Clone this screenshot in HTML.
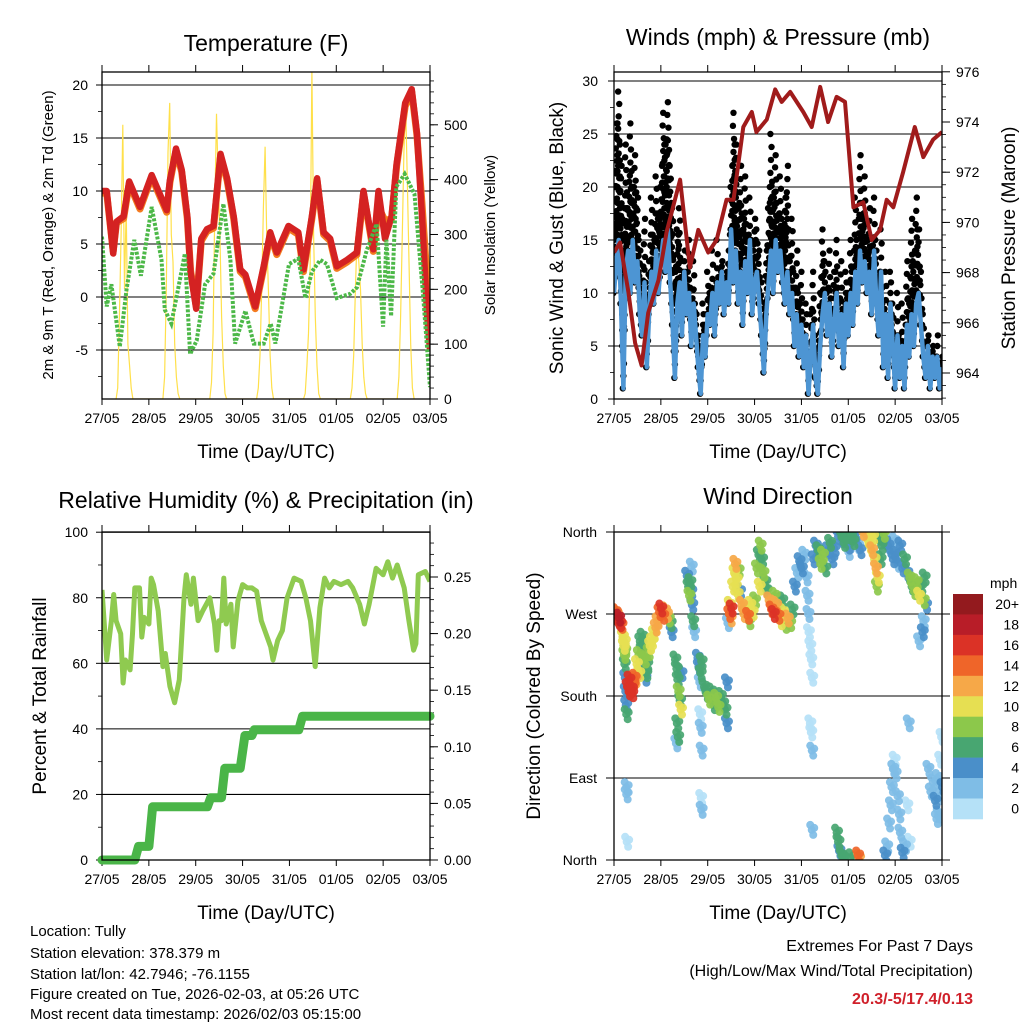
<!DOCTYPE html>
<html><head><meta charset="utf-8"><style>
html,body{margin:0;padding:0;background:#fff;}
svg{display:block;font-family:"Liberation Sans",Arial,sans-serif;}
</style></head><body>
<svg id="fig" width="1024" height="1024" viewBox="0 0 1024 1024" xmlns="http://www.w3.org/2000/svg">
<rect width="1024" height="1024" fill="#fff"/>
<g id="content"></g>
<text x="266" y="51" font-size="23" text-anchor="middle">Temperature (F)</text>
<text x="778" y="45" font-size="23" text-anchor="middle">Winds (mph) &amp; Pressure (mb)</text>
<text x="266" y="508" font-size="23" text-anchor="middle">Relative Humidity (%) &amp; Precipitation (in)</text>
<text x="778" y="504" font-size="23" text-anchor="middle">Wind Direction</text>
<text transform="translate(53,235) rotate(-90)" font-size="15" text-anchor="middle">2m &amp; 9m T (Red, Orange) &amp; 2m Td (Green)</text>
<text transform="translate(495,235) rotate(-90)" font-size="15" text-anchor="middle">Solar Insolation (Yellow)</text>
<text transform="translate(563,238) rotate(-90)" font-size="19" text-anchor="middle">Sonic Wind &amp; Gust (Blue, Black)</text>
<text transform="translate(1015,238) rotate(-90)" font-size="19" text-anchor="middle">Station Pressure (Maroon)</text>
<text transform="translate(46,696) rotate(-90)" font-size="19" text-anchor="middle">Percent &amp; Total Rainfall</text>
<text transform="translate(540,696) rotate(-90)" font-size="19" text-anchor="middle">Direction (Colored By Speed)</text>
<text x="266" y="458" font-size="19" text-anchor="middle">Time (Day/UTC)</text>
<text x="778" y="458" font-size="19" text-anchor="middle">Time (Day/UTC)</text>
<text x="266" y="919" font-size="19" text-anchor="middle">Time (Day/UTC)</text>
<text x="778" y="919" font-size="19" text-anchor="middle">Time (Day/UTC)</text>
<g font-size="15">
<text x="30" y="936">Location: Tully</text>
<text x="30" y="958">Station elevation: 378.379 m</text>
<text x="30" y="979">Station lat/lon: 42.7946; -76.1155</text>
<text x="30" y="999">Figure created on Tue, 2026-02-03, at 05:26 UTC</text>
<text x="30" y="1019">Most recent data timestamp: 2026/02/03 05:15:00</text>
</g>
<text x="973" y="951" font-size="16" text-anchor="end">Extremes For Past 7 Days</text>
<text x="973" y="976" font-size="16" text-anchor="end">(High/Low/Max Wind/Total Precipitation)</text>
<text x="973" y="1004" font-size="16" font-weight="bold" fill="#d0202a" text-anchor="end">20.3/-5/17.4/0.13</text>
<text x="990" y="588" font-size="14">mph</text>
</svg>
<script>
// ---------- data ----------
const dayLabels = ['27/05','28/05','29/05','30/05','31/05','01/05','02/05','03/05'];
const tempTicks = [-5,0,5,10,15,20];
const solarTicks = [0,100,200,300,400,500];
const windTicks = [0,5,10,15,20,25,30];
const pressTicks = [964,966,968,970,972,974,976];
const rhTicks = [0,20,40,60,80,100];
const precipTicks = [0,0.05,0.10,0.15,0.20,0.25];
const precipTickLabels = ['0.00','0.05','0.10','0.15','0.20','0.25'];
const dirTicks = [0,90,180,270,360];
const dirTickLabels = ['North','East','South','West','North'];
const speedBins = ['0','2','4','6','8','10','12','14','16','18','20+'];
const speedColors = ['#b5e1f7','#7fbde6','#4a8fc9','#48a671','#8cc84b','#e6df52','#f6a848','#ef6529','#db3226','#b81d28','#931a1e'];

const tempTimes = [0,0.10,0.24,0.31,0.46,0.58,0.81,1.06,1.38,1.45,1.58,1.70,1.82,1.89,2.01,2.12,2.24,2.38,2.53,2.67,2.81,2.95,3.06,3.27,3.45,3.59,3.73,3.98,4.19,4.30,4.48,4.59,4.73,4.87,5.01,5.23,5.44,5.58,5.79,5.90,6.04,6.18,6.29,6.47,6.61,6.72,6.83,6.94,7.0];
const tempRed = [10,10,4.1,7.1,7.6,10.9,8.5,11.5,8.2,11,14,12,7.6,2.3,-1.1,5.5,6.4,6.7,13.5,11.2,7.6,2.6,2.1,-0.9,2.9,6.1,4.2,6.7,6.1,2.6,7.6,11.2,6.1,5.5,2.9,3.5,4.2,10,4.5,10,5.5,7.6,12.6,18.3,19.6,15.5,7.6,-1.8,-5];
const tempOrange = [9.8,9.8,4.3,7,7.4,10.7,8.3,11.3,8,10.8,13.8,11.8,7.4,2.5,-0.9,5.3,6.2,6.5,13.3,11,7.4,2.4,1.9,-1.1,2.7,5.9,4,6.5,5.9,2.4,7.4,11,5.9,5.3,2.7,3.3,4,9.8,4.3,8.5,7.2,7.4,12.4,18,19.4,15.3,8.8,1.5,-3];
const dewTimes = [0,0.10,0.2,0.38,0.52,0.69,0.83,1.06,1.27,1.34,1.48,1.63,1.77,1.88,2.02,2.20,2.38,2.59,2.74,2.84,3.06,3.24,3.45,3.60,3.70,3.99,4.19,4.34,4.48,4.66,4.80,5.01,5.30,5.44,5.65,5.86,6.00,6.07,6.17,6.28,6.46,6.67,6.85,7.0];
const dewValues = [5.7,-0.9,1.2,-4.7,0.6,5.4,2.0,8.5,3.5,-1.2,-2.5,0.9,4.1,-5.4,-4.1,1.2,2.2,8.8,3.5,-4.4,-1.3,-4.4,-4.4,-2.5,-4.4,3.1,3.6,-0.1,2.4,3.5,3.1,-0.1,0.3,0.9,4.4,6.9,-2.8,5.4,-1.8,10.4,11.6,9.7,0.3,-8.5];
const solarValues = [
 0,20,150,300,500,200,350,100,60,20,0,
 0,40,200,450,540,300,250,100,40,10,0,
 0,30,120,350,520,400,300,150,60,10,0,
 0,20,80,200,350,460,300,200,80,20,0,
 0,10,60,120,250,600,300,150,60,10,0,
 0,20,80,200,300,250,200,100,40,10,0,
 0,40,150,300,450,540,400,250,100,20,0];

const pressTimes = [0,0.13,0.31,0.45,0.59,0.73,0.95,1.12,1.41,1.62,1.80,2.01,2.19,2.40,2.55,2.76,2.94,3.04,3.26,3.44,3.58,3.76,4.04,4.22,4.40,4.57,4.75,4.93,5.11,5.32,5.50,5.68,5.82,5.96,6.17,6.42,6.60,6.81,7.0];
const pressValues = [968.8,969.2,967.2,965.2,964.3,966.4,967.7,969.6,971.7,968.2,969.7,968.8,969.3,970.9,970.9,973.8,974.4,973.6,974.1,975.3,974.8,975.2,974.4,973.8,975.4,974.0,975.0,974.8,970.6,970.8,969.3,969.7,970.9,970.6,972.0,973.8,972.6,973.3,973.6];
const windSpeed = [10,13,15,9,1,12,14,10,15,11,13,
 8,6,11,3,8,12,9,14,10,13,
 15,12,16,11,7,2,9,11,6,12,
 8,10,5,9,6,3,0.5,6,4,8,
 7,10,6,11,9,12,8,11,9,16,
 11,14,9,12,7,13,10,15,8,11,
 12,9,6,2.5,8,11,14,10,15,12,
 14,11,9,12,8,10,5,8,4,7,
 3,6,0.5,4,7,2,0.5,5,8,10,
 6,9,4,7,10,5,8,3,9,6,
 10,7,12,9,14,11,13,10,12,8,
 14,9,6,12,3,8,2,9,5,1,
 6,2,5,1,7,4,8,5,9,10,
 7,4,2,5,1,4,2,4,1,3];
const windGust = [20,26,29,22,15,24,18,26,20,23,19,
 14,11,17,8,13,19,15,21,17,20,
 27,24,28,22,18,12,16,18,11,14,
 12,15,9,13,8,6,3,9,7,12,
 10,14,9,15,11,13,10,12,14,20,
 27,24,18,22,16,21,15,19,14,17,
 16,14,11,7,14,18,25,19,23,17,
 21,16,19,22,13,17,10,14,9,12,
 6,9,3,8,12,6,4,10,16,13,
 10,14,8,12,15,9,13,7,12,10,
 15,12,19,14,23,17,21,15,18,13,
 19,14,11,16,8,12,6,12,9,4,
 10,5,9,4,13,9,17,12,19,16,
 12,8,5,6,4,5,4,6,3,4];

const rhTimes = [0,0.1,0.2,0.25,0.3,0.4,0.45,0.5,0.6,0.65,0.7,0.8,0.85,0.9,1.0,1.05,1.1,1.2,1.3,1.35,1.45,1.55,1.65,1.75,1.8,1.9,1.95,2.05,2.15,2.3,2.4,2.45,2.5,2.55,2.6,2.65,2.75,2.8,2.9,3.0,3.1,3.2,3.3,3.4,3.5,3.6,3.65,3.75,3.85,3.95,4.1,4.25,4.35,4.45,4.55,4.65,4.75,4.85,4.95,5.1,5.25,5.35,5.5,5.6,5.7,5.85,6.0,6.1,6.2,6.3,6.45,6.55,6.65,6.7,6.75,6.9,7.0];
const rhValues = [82.4,61,73,81,73,69,54,61,58,69,83,83,68,74,72,86,84,76,59,63,53,48,55,80,87,78,86,73,76,80,72,64,73,73,86,72,78,65,79,84,83,83,82,73,69,65,61,67,70,80,86,85,80,73,59,77,86,83,85,84,85,83,78,72,78,89,87,91,86,90,83,73,64,66,87,88,85];
const precipTimes = [0,0.7,0.78,1.0,1.08,2.25,2.32,2.55,2.62,2.95,3.05,3.2,3.25,4.2,4.28,7.0];
const precipValues = [0,0,0.012,0.012,0.047,0.047,0.055,0.055,0.081,0.081,0.11,0.11,0.115,0.115,0.127,0.127];

const dirTimes = [0.00,0.03,0.06,0.09,0.12,0.15,0.05,0.10,
0.18,0.20,0.21,0.22,0.23,0.24,0.25,0.26,0.22,0.23,0.26,0.26,0.27,
0.28,0.31,0.34,0.37,0.40,0.43,0.32,0.38,0.45,
0.48,0.52,0.55,0.58,0.62,0.65,0.68,0.70,0.73,0.76,0.53,0.60,0.66,
0.80,0.84,0.88,0.92,0.96,1.00,1.04,1.08,1.12,1.16,1.20,1.22,
1.30,1.33,1.35,1.37,1.40,1.42,1.34,1.36,1.32,1.43,
1.55,1.58,1.60,1.62,1.64,1.66,1.68,1.65,1.70,
1.78,1.80,1.84,1.86,1.82,1.83,1.84,1.86,1.85,1.86,
1.92,1.97,2.02,2.07,2.12,2.17,2.22,2.27,2.32,2.37,2.40,2.40,
2.45,2.48,2.50,2.46,2.42,
2.53,2.56,2.58,2.61,2.63,2.65,2.68,
2.72,2.76,2.80,2.85,2.90,2.95,3.00,2.88,
3.04,3.08,3.12,3.15,3.18,3.22,3.25,3.10,
3.30,3.35,3.40,3.45,3.50,3.55,3.60,3.65,3.70,3.75,3.80,3.42,3.58,
3.85,3.90,3.95,4.00,4.05,4.10,4.12,4.14,4.15,4.18,4.20,4.22,4.18,4.20,4.22,4.22,
4.25,4.30,4.35,4.40,4.45,4.50,4.55,4.60,4.65,4.70,
4.78,4.82,4.86,4.90,4.95,5.00,5.05,5.10,5.15,5.20,5.25,5.00,5.30,
5.40,5.45,5.50,5.55,5.58,5.62,5.60,5.52,
5.65,5.70,5.75,5.68,5.78,
5.85,5.90,5.95,6.00,6.05,6.10,6.15,6.20,6.25,5.98,
6.30,6.35,6.40,6.45,6.50,6.55,6.60,6.62,6.65,6.60,6.58,6.50,
4.78,4.80,4.85,4.90,4.75,5.05,5.20,5.22,
5.78,5.82,5.86,5.90,5.92,5.95,5.98,6.00,6.05,6.08,6.10,6.15,6.20,6.25,6.28,6.30,
6.70,6.75,6.80,6.85,6.90,6.92,6.95,6.98,7.00,6.88,6.96];
const dirDegrees = [268,272,265,262,260,258,270,266,
245,235,225,215,200,185,170,160,240,230,80,72,20,
190,185,192,188,195,200,198,183,198,
215,225,240,230,210,220,205,215,228,235,205,245,200,
240,248,255,262,272,276,268,274,270,265,260,250,
220,210,198,185,175,165,150,135,128,205,
312,300,290,305,295,280,262,322,250,
222,212,205,218,195,160,145,120,68,55,
190,182,176,185,170,178,168,180,172,165,195,150,
270,265,276,280,260,
300,315,325,308,292,318,295,
280,270,275,268,280,272,285,262,
320,335,345,330,315,305,296,300,
285,275,270,280,268,262,272,258,265,260,275,290,285,
300,315,328,320,335,310,290,270,250,235,220,200,150,140,120,33,
330,345,340,325,335,320,340,348,330,342,
355,360,352,348,358,345,355,350,358,345,340,338,360,
352,345,340,330,320,310,300,355,
355,345,358,330,350,
345,340,330,335,325,345,320,330,315,350,
310,300,295,305,290,300,285,310,280,262,250,240,
20,10,5,2,30,3,5,2,
5,15,40,60,80,100,110,95,70,50,30,8,15,60,150,20,
100,75,85,65,90,50,110,135,80,45,70];
const dirSpeeds = [12,15,16,17,16,15,13,18,
11,10,9,6,5,4,4,6,10,8,2,3,1,
16,17,15,16,14,15,16,17,13,
10,9,7,6,5,8,7,6,9,10,10,6,4,
10,11,12,12,14,16,15,13,12,9,7,5,
6,7,6,8,7,10,6,7,3,5,
4,6,8,7,5,4,6,2,2,
5,4,7,6,3,1,3,2,1,3,
6,7,8,6,7,9,8,6,6,7,5,4,
14,12,16,10,3,
10,11,12,10,11,8,5,
13,12,10,14,11,10,9,8,
8,7,8,6,9,7,6,10,
12,14,16,13,15,11,10,9,12,8,7,9,6,
4,3,5,4,2,3,2,2,1,1,0,0,1,1,2,2,
5,4,6,8,9,7,5,6,4,5,
4,6,5,7,6,4,6,7,5,3,4,3,12,
11,10,12,11,13,10,9,10,
7,6,8,6,5,
4,3,4,5,3,4,5,6,4,2,
8,6,9,8,10,7,9,6,4,3,4,2,
6,5,6,7,6,6,14,12,
4,3,2,3,2,2,1,3,2,3,2,4,2,0,3,1,
2,3,2,4,2,3,1,1,4,2,3];

// ---------- scales ----------
const DAY = (430-102)/7;
function xL(t){ return 102 + t*DAY; }
function xR(t){ return 614 + t*DAY; }
function yTemp(v){ return 297 - v*10.6; }
function ySolar(v){ return 399 - v*0.5484; }
function yWind(v){ return 399 - v*10.6; }
function yPress(v){ return 373 - (v-964)*25.1; }
function yRH(v){ return 860 - v*3.278; }
function yPrecip(v){ return 860 - v*1132; }
function yDir(d){ return 860 - d*(328/360); }

const NS = 'http://www.w3.org/2000/svg';
const root = document.getElementById('content');
function mk(tag, attrs, parent){
  const e = document.createElementNS(NS, tag);
  for (const k in attrs) e.setAttribute(k, attrs[k]);
  (parent||root).appendChild(e);
  return e;
}
function pathFrom(xs, ys){
  let d='';
  for (let i=0;i<xs.length;i++) d += (i?'L':'M') + xs[i].toFixed(1) + ',' + ys[i].toFixed(1);
  return d;
}
function clip(id, x0, y0, x1, y1){
  const cp = mk('clipPath', {id:id});
  mk('rect', {x:x0, y:y0, width:x1-x0, height:y1-y0}, cp);
}
clip('c1',102,72,430,399); clip('c2',614,72,942,399); clip('c3',102,532,430,860); clip('c4',614,532,942,860);

// ---------- generic axis pieces ----------
function xAxis(x, y0, y1, prefix){
  for (let i=0;i<dayLabels.length;i++){
    const xx = x(i);
    const tb = mk('line',{x1:xx,y1:y1,x2:xx,y2:y1+6,stroke:'#000','stroke-width':1});
    
    
    const tt = mk('line',{x1:xx,y1:y0,x2:xx,y2:y0-7,stroke:'#000','stroke-width':1});
    
    
    const lb = mk('text',{x:xx,y:y1+24,'font-size':14,'text-anchor':'middle'});
    lb.textContent = dayLabels[i];
    
    
  }
}
function leftAxis(ticks, labels, yf, x0, x1, prefix, grid, lx, anchor){
  for (let i=0;i<ticks.length;i++){
    const yy = yf(ticks[i]);
    if (grid){
      const g = mk('line',{x1:grid[0],y1:yy,x2:grid[1],y2:yy,stroke:'#000','stroke-width':1.1});
      
      
    }
    const t = mk('line',{x1:x0-6,y1:yy,x2:x0,y2:yy,stroke:'#000','stroke-width':1});
    
    
    const lb = mk('text',{x:lx,y:yy+5,'font-size':14,'text-anchor':anchor||'end'});
    lb.textContent = labels[i];
    
    
  }
}
function rightAxis(ticks, labels, yf, x1, prefix, minorStep, lo, hi){
  for (let v=lo; v<=hi+1e-9; v+=minorStep){
    const yy = yf(v);
    if (yy<72 || yy>399 && yy<532 || yy>860) continue;
    const m = mk('line',{x1:x1,y1:yy,x2:x1+4,y2:yy,stroke:'#000','stroke-width':0.8});
    
    
  }
  for (let i=0;i<ticks.length;i++){
    const yy = yf(ticks[i]);
    const t = mk('line',{x1:x1,y1:yy,x2:x1+8,y2:yy,stroke:'#000','stroke-width':1});
    
    
    const lb = mk('text',{x:x1+14,y:yy+5,'font-size':14});
    lb.textContent = labels[i];
    
    
  }
}
function frame(x0,y0,x1,y1,prefix){
  const r = mk('rect',{x:x0,y:y0,width:x1-x0,height:y1-y0,fill:'none',stroke:'#000','stroke-width':1.3});
  
  
}

// ---------- Panel 1: Temperature ----------
leftAxis(tempTicks, tempTicks.map(String), yTemp, 102, 430, 'temperature', [102,430], 88);
for (let v=-7.5; v<=20; v+=5){
  const m = mk('line',{x1:98,y1:yTemp(v),x2:102,y2:yTemp(v),stroke:'#000','stroke-width':0.8});
  
  
}
rightAxis(solarTicks, solarTicks.map(String), ySolar, 430, 'solar', 20, 0, 580);
xAxis(xL, 72, 399, 'temperature');
{
  const g = mk('g',{'clip-path':'url(#c1)'});
  
  
  const sx=[], sy=[];
  for (let d=0; d<7; d++) for (let k=0;k<11;k++){ sx.push(xL(d+0.30+k*0.036)); sy.push(ySolar(solarValues[d*11+k])); }
  const s = mk('path',{d:pathFrom(sx,sy),fill:'none',stroke:'#ffe04a','stroke-width':1.2},g);
  
  
  const o = mk('path',{d:pathFrom(tempTimes.map(xL),tempOrange.map(yTemp)),fill:'none',stroke:'#f47b20','stroke-width':7,'stroke-linejoin':'round'},g);
  
  
  const r = mk('path',{d:pathFrom(tempTimes.map(xL),tempRed.map(yTemp)),fill:'none',stroke:'#d42222','stroke-width':6.5,'stroke-linejoin':'round'},g);
  
  
  const dw = mk('path',{d:pathFrom(dewTimes.map(xL),dewValues.map(yTemp)),fill:'none',stroke:'#4cb848','stroke-width':4,'stroke-dasharray':'3 1.6'},g);
  
  
}
frame(102,72,430,399,'temperature');

// ---------- Panel 2: Winds & Pressure ----------
leftAxis(windTicks, windTicks.map(String), yWind, 614, 942, 'wind', [614,942], 598);
for (let v=2.5; v<=30; v+=5){
  const m = mk('line',{x1:610,y1:yWind(v),x2:614,y2:yWind(v),stroke:'#000','stroke-width':0.8});
  
  
}
rightAxis(pressTicks, pressTicks.map(String), yPress, 942, 'pressure', 0.5, 963, 976);
xAxis(xR, 72, 399, 'wind');
{
  const g = mk('g',{'clip-path':'url(#c2)'});
  
  
  for (let i=0;i<windGust.length;i++){
    const t = i*0.05;
    const lo = windSpeed[i], hi = windGust[i];
    const prevHi = i>0 ? windGust[i-1] : hi;
    // dot cloud between wind and gust for this sample interval
    const n = Math.max(2, Math.round((hi-lo)/1.2));
    for (let k=0;k<=n;k++){
      const v = lo + (hi-lo)*k/n;
      const off = ((k%3)-1)*0.012;
      const c = mk('circle',{cx:xR(t+off),cy:yWind(v),r:3.2,fill:'#000'},g);
      
      
    }
    if (i>0){
      const mhi = (hi+prevHi)/2 - 1.5, mlo = (lo+windSpeed[i-1])/2;
      const m = Math.max(2, Math.round((mhi-mlo)/1.5));
      for (let k=0;k<=m;k++){
        const v = mlo + (mhi-mlo)*k/m;
        const c = mk('circle',{cx:xR(t-0.025),cy:yWind(v),r:3.2,fill:'#000'},g);
        
        
      }
    }
  }
  const wx = windSpeed.map((v,i)=>xR(i*0.05));
  const b = mk('path',{d:pathFrom(wx,windSpeed.map(yWind)),fill:'none',stroke:'#4d95d3','stroke-width':4.5,'stroke-linejoin':'round'},g);
  
  
  const p = mk('path',{d:pathFrom(pressTimes.map(xR),pressValues.map(yPress)),fill:'none',stroke:'#a01b1b','stroke-width':4,'stroke-linejoin':'round'},g);
  
  
}
frame(614,72,942,399,'wind');

// ---------- Panel 3: RH & Precip ----------
leftAxis(rhTicks, rhTicks.map(String), yRH, 102, 430, 'humidity', [102,430], 88);
for (let v=10; v<=100; v+=20){
  const m = mk('line',{x1:98,y1:yRH(v),x2:102,y2:yRH(v),stroke:'#000','stroke-width':0.8});
  
  
}
rightAxis(precipTicks, precipTickLabels, yPrecip, 430, 'precip', 0.01, 0, 0.28);
xAxis(xL, 532, 860, 'humidity');
{
  const g = mk('g',{'clip-path':'url(#c3)'});
  
  
  const rh = mk('path',{d:pathFrom(rhTimes.map(xL),rhValues.map(yRH)),fill:'none',stroke:'#8fca50','stroke-width':5,'stroke-linejoin':'round'},g);
  
  
}
{
  const pr = mk('path',{d:pathFrom(precipTimes.map(xL),precipValues.map(yPrecip)),fill:'none',stroke:'#4ab548','stroke-width':9,'stroke-linejoin':'round','stroke-linecap':'round'});
  
  
}
frame(102,532,430,860,'humidity');

// ---------- Panel 4: Wind direction ----------
leftAxis(dirTicks, dirTickLabels, yDir, 614, 942, 'direction', [606,950], 597);
xAxis(xR, 532, 860, 'direction');
function speedColor(s){ return speedColors[Math.min(10, Math.max(0, Math.floor(s/2)))]; }
{
  const g = mk('g',{'clip-path':'url(#c4)'});
  
  
  const order = dirSpeeds.map((s,i)=>i).sort((a,b)=>dirSpeeds[a]-dirSpeeds[b]);
  const offs = [[0,0],[1.5,5],[-1.5,-5],[2.5,-2]];
  for (const i of order){
    for (const o of offs){
      const c = mk('circle',{cx:xR(dirTimes[i])+o[0],cy:yDir(dirDegrees[i])+o[1],r:4,fill:speedColor(dirSpeeds[i]),'fill-opacity':0.92},g);
      
      
    }
  }
}
frame(614,532,942,860,'direction');
for (let i=0;i<speedBins.length;i++){
  const k = speedBins.length-1-i;
  const y = 594 + i*20.45;
  const r = mk('rect',{x:953,y:y,width:30,height:20.8,fill:speedColors[k]});
  
  
  const t = mk('text',{x:1019,y:y+15,'font-size':14,'text-anchor':'end'});
  t.textContent = speedBins[k];
  
  
}
</script>
</body></html>
